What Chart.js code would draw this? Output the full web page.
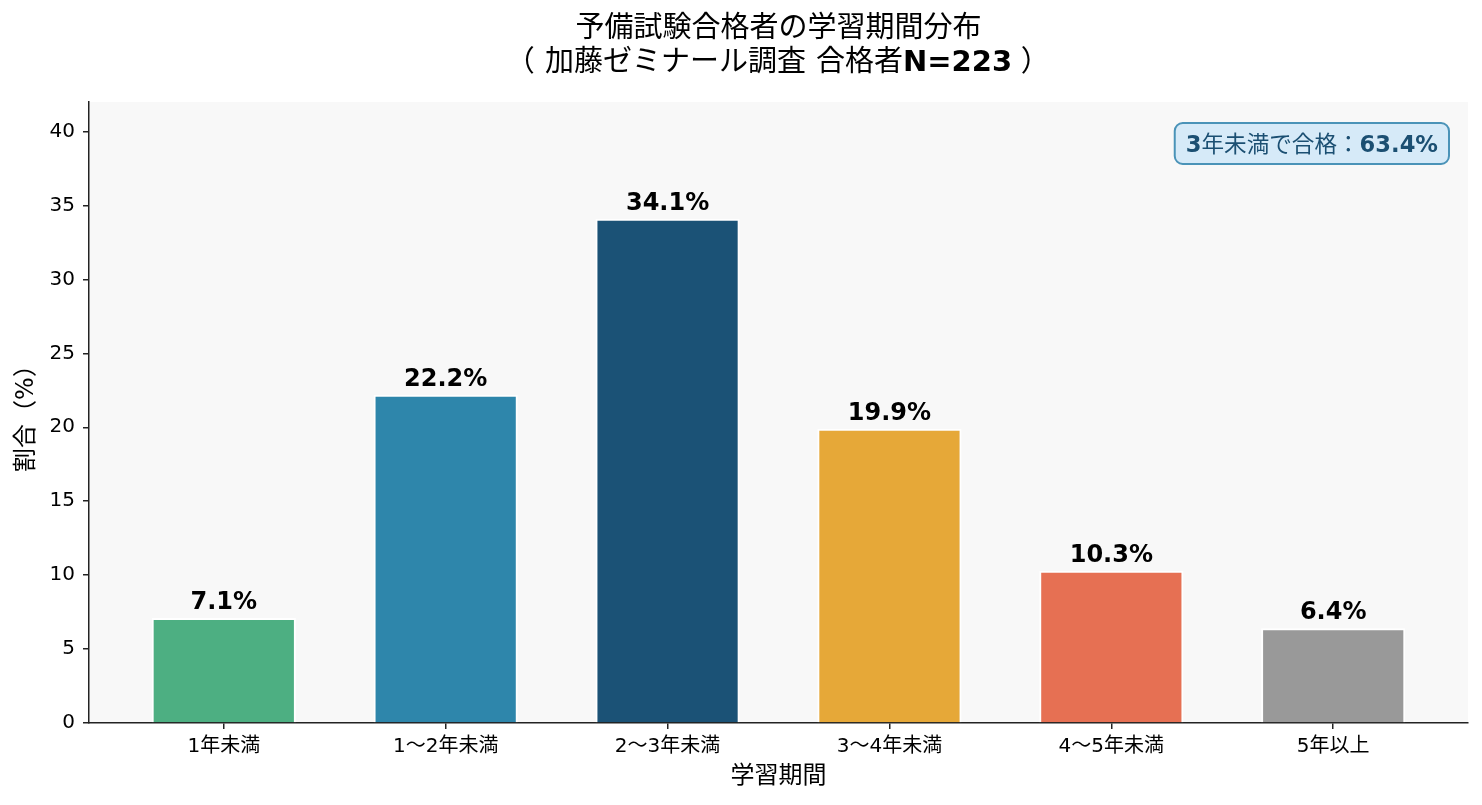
<!DOCTYPE html>
<html>
<head>
<meta charset="utf-8">
<script src="https://cdn.jsdelivr.net/npm/chart.js@4.4.1/dist/chart.umd.min.js"></script>
<style>
  body { margin: 0; background: #ffffff; }
  #wrap { width: 1482px; height: 805px; }
</style>
</head>
<body>
<div id="wrap"><canvas id="chart"></canvas></div>
<script>
const categories = ['1年未満', '1〜2年未満', '2〜3年未満', '3〜4年未満', '4〜5年未満', '5年以上'];
const shares = [7.1, 22.2, 34.1, 19.9, 10.3, 6.4];
const barColors = ['#4DAF82', '#2E86AB', '#1B5276', '#E6A838', '#E67053', '#999999'];
const yTicks = [0, 5, 10, 15, 20, 25, 30, 35, 40];
const titleLines = ['予備試験合格者の学習期間分布', '（加藤ゼミナール調査 合格者N=223）'];
const noteText = '3年未満で合格：63.4%';

const LATIN = '"DejaVu Sans"';
const CJK = '"Noto Sans CJK JP"';

// split text into latin / CJK runs so that latin can be bold and CJK stays regular
function splitRuns(text) {
  const runs = [];
  for (const ch of text) {
    const cjk = ch.charCodeAt(0) > 0x2000;
    if (runs.length && runs[runs.length - 1].cjk === cjk) runs[runs.length - 1].t += ch;
    else runs.push({ t: ch, cjk: cjk });
  }
  return runs;
}

function runFont(run, size, latinBold) {
  return run.cjk ? `${size}px ${CJK}` : `${latinBold ? 'bold ' : ''}${size}px ${LATIN}`;
}

function measureRuns(ctx, text, size, latinBold) {
  let w = 0;
  for (const r of splitRuns(text)) {
    ctx.font = runFont(r, size, latinBold);
    w += ctx.measureText(r.t).width;
  }
  return w;
}

function drawRuns(ctx, text, cx, baseline, size, latinBold, color) {
  let x = cx - measureRuns(ctx, text, size, latinBold) / 2;
  ctx.fillStyle = color;
  ctx.textAlign = 'left';
  ctx.textBaseline = 'alphabetic';
  for (const r of splitRuns(text)) {
    ctx.font = runFont(r, size, latinBold);
    if (r.cjk) {
      // full-width brackets sit in the middle of their cell in the reference
      for (const ch of r.t) {
        let dx = 0;
        if (ch === '（') dx = -0.35 * size;
        if (ch === '）') dx = 0.3 * size;
        ctx.fillText(ch, x + dx, baseline);
        x += ctx.measureText(ch).width;
      }
    } else {
      ctx.fillText(r.t, x, baseline);
      x += ctx.measureText(r.t).width;
    }
  }
}

const decorations = {
  id: 'decorations',
  beforeDraw(chart) {
    const { ctx, chartArea } = chart;
    ctx.save();
    ctx.fillStyle = '#f8f8f8';
    ctx.fillRect(chartArea.left, chartArea.top, chartArea.right - chartArea.left, chartArea.bottom - chartArea.top);
    ctx.restore();
  },
  afterDatasetsDraw(chart) {
    const { ctx, chartArea } = chart;
    const meta = chart.getDatasetMeta(0);
    const yScale = chart.scales.y;
    ctx.save();
    // value labels
    ctx.font = `bold 24px ${LATIN}`;
    ctx.fillStyle = '#000000';
    ctx.textAlign = 'center';
    ctx.textBaseline = 'alphabetic';
    meta.data.forEach((bar, i) => {
      ctx.fillText(shares[i].toFixed(1) + '%', bar.x, yScale.getPixelForValue(shares[i]) - 9);
    });

    // title
    const cx = (chartArea.left + chartArea.right) / 2;
    drawRuns(ctx, titleLines[0], cx, 37, 29, true, '#000000');
    drawRuns(ctx, titleLines[1], cx, 71, 29, true, '#000000');

    // note box
    const tw = measureRuns(ctx, noteText, 22.6, true);
    const bw = tw + 22, bh = 41;
    const bx = chartArea.right - 19 - bw, by = chartArea.top + 21;
    ctx.beginPath();
    ctx.roundRect(bx, by, bw, bh, 8);
    ctx.fillStyle = '#D6EAF8';
    ctx.fill();
    ctx.lineWidth = 2;
    ctx.strokeStyle = '#4A93B8';
    ctx.stroke();
    drawRuns(ctx, noteText, bx + bw / 2, by + 29, 22.6, true, '#1B4F72');
    ctx.restore();
  }
};

new Chart(document.getElementById('chart'), {
  type: 'bar',
  data: {
    datasets: [{
      data: shares.map((v, i) => ({ x: i, y: v })),
      backgroundColor: barColors,
      borderColor: '#ffffff',
      borderWidth: 2,
      barPercentage: 0.65,
      categoryPercentage: 1
    }]
  },
  options: {
    responsive: true,
    maintainAspectRatio: false,
    animation: false,
    layout: { padding: { top: 102, right: 14, left: 0, bottom: 0 } },
    plugins: {
      legend: { display: false },
      title: { display: false },
      tooltip: { enabled: false }
    },
    scales: {
      x: {
        type: 'linear',
        offset: false,
        min: -0.6075,
        max: 5.6075,
        afterBuildTicks(scale) {
          scale.ticks = categories.map((c, i) => ({ value: i }));
        },
        afterFit(scale) { scale.height = 82; },
        grid: { offset: false, drawOnChartArea: false, drawTicks: true, tickLength: 6, color: '#222222', lineWidth: 1.5 },
        border: { display: true, color: '#222222', width: 1.5 },
        ticks: {
          padding: 6,
          color: '#000000',
          font: { family: '"DejaVu Sans", "Noto Sans CJK JP"', size: 20 },
          callback: (v) => categories[v]
        },
        title: {
          display: true,
          text: '学習期間',
          color: '#000000',
          padding: { top: 0, bottom: 14 },
          font: { family: '"DejaVu Sans", "Noto Sans CJK JP"', size: 24 }
        }
      },
      y: {
        min: 0,
        max: 42,
        afterBuildTicks(scale) {
          scale.ticks = yTicks.map(v => ({ value: v }));
        },
        afterFit(scale) { scale.width = 89; },
        grid: { drawOnChartArea: false, drawTicks: true, tickLength: 6, color: '#222222', lineWidth: 1.5 },
        border: { display: true, color: '#222222', width: 1.5 },
        ticks: {
          padding: 8,
          color: '#000000',
          font: { family: '"DejaVu Sans", "Noto Sans CJK JP"', size: 20 }
        },
        title: {
          display: true,
          text: '割合（%）',
          color: '#000000',
          padding: { top: 12, bottom: 0 },
          font: { family: '"DejaVu Sans", "Noto Sans CJK JP"', size: 24 }
        }
      }
    }
  },
  plugins: [decorations]
});
</script>
</body>
</html>
